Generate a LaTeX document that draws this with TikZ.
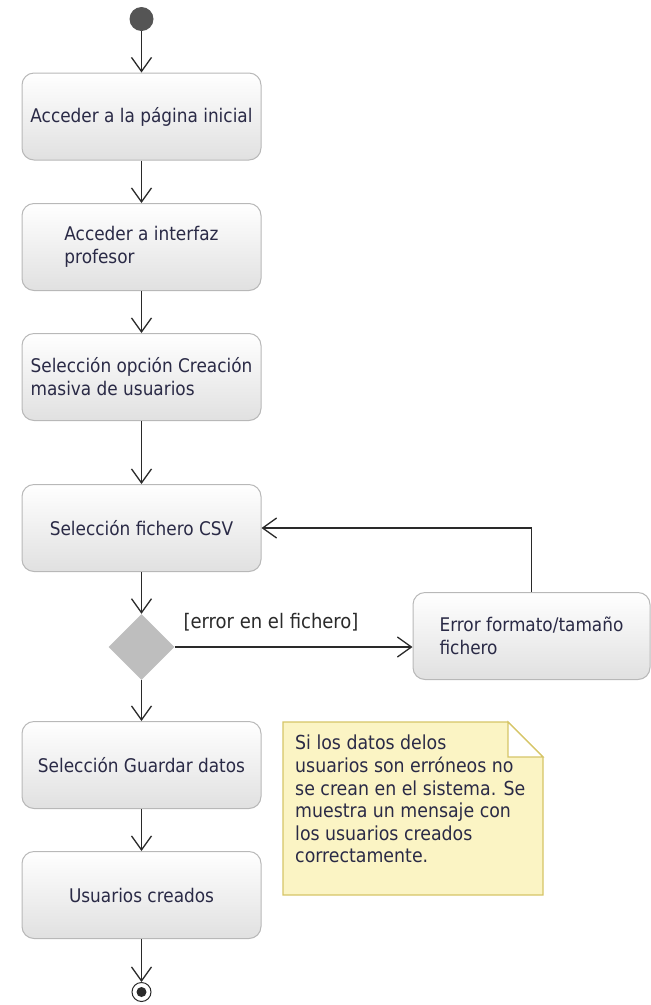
\documentclass[tikz,border=0pt]{standalone}
\usepackage{fontspec}
\setmainfont{DejaVu Sans Condensed}
\usetikzlibrary{arrows.meta,shapes.geometric}
\definecolor{txt}{HTML}{2A2A46}
\definecolor{boxedge}{HTML}{B8B8B8}
\definecolor{flow}{HTML}{2A2A2A}
\definecolor{notefill}{HTML}{FBF4C4}
\definecolor{noteedge}{HTML}{D6C567}
\definecolor{decfill}{HTML}{BEBEBE}
\definecolor{startfill}{HTML}{555555}
\begin{document}
\begin{tikzpicture}[x=1pt,y=-1pt,
  action/.style={draw=boxedge, line width=1pt, rounded corners=12pt,
    top color=white, bottom color=black!12,
    minimum width=239pt, minimum height=87pt, inner sep=0pt,
    align=left, font=\fontsize{18.8}{23}\selectfont, text=txt},
  flowline/.style={draw=flow, line width=1.3pt,
    -{Straight Barb[length=14pt,width=20pt,line width=1.3pt]}},
  guard/.style={font=\fontsize{20}{24}\selectfont, text=flow}
]
\useasboundingbox (0,0) rectangle (651,1005);

% initial and final states
\node[circle, fill=startfill, minimum size=24pt, inner sep=0pt] (start) at (141.5,19) {};
\node[circle, draw=flow, line width=1pt, fill=white, minimum size=19pt, inner sep=0pt] (stop) at (141.5,992) {};
\fill[flow] (stop.center) circle (5pt);

% actions
\node[action] (home) at (141.5,116.5) {Acceder a la página inicial};
\node[action] (prof) at (141.5,247) {Acceder a interfaz\\profesor};
\node[action] (bulk) at (141.5,377) {Selección opción Creación\\masiva de usuarios};
\node[action] (csv)  at (141.5,528) {Selección fichero CSV};
\node[action] (save) at (141.5,765) {Selección Guardar datos};
\node[action] (done) at (141.5,895) {Usuarios creados};
\node[action, minimum width=237pt] (err) at (531.5,636) {Error formato/tamaño\\fichero};

% decision
\node[diamond, fill=decfill, minimum width=66pt, minimum height=66pt, inner sep=0pt] (dec) at (141.5,647) {};

% flows
\draw[flowline] (start) -- (home);
\draw[flowline] (home) -- (prof);
\draw[flowline] (prof) -- (bulk);
\draw[flowline] (bulk) -- (csv);
\draw[flowline] (csv) -- (dec);
\draw[flowline] (dec.east) -- (dec.east -| err.west);
\draw[flowline] (err.north) |- (csv.east);
\draw[flowline] (dec) -- (save);
\draw[flowline] (save) -- (done);
\draw[flowline] (done) -- (stop);

\node[guard] (cond) at (271,622) {[error en el fichero]};

% note with folded corner
\draw[draw=noteedge, fill=notefill, line width=1.2pt]
  (283,722) -- (508,722) -- (543,757) -- (543,895) -- (283,895) -- cycle;
\draw[draw=noteedge, fill=white, line width=1.2pt]
  (508,722) -- (508,757) -- (543,757) -- cycle;
\node[anchor=north west, align=left, inner sep=0pt, text=txt,
  font=\fontsize{19.3}{22.6}\selectfont] (memo) at (295,735)
  {Si los datos delos\\usuarios son erróneos no\\se crean en el sistema. Se\\muestra un mensaje con\\los usuarios creados\\correctamente.};
\end{tikzpicture}
\end{document}
